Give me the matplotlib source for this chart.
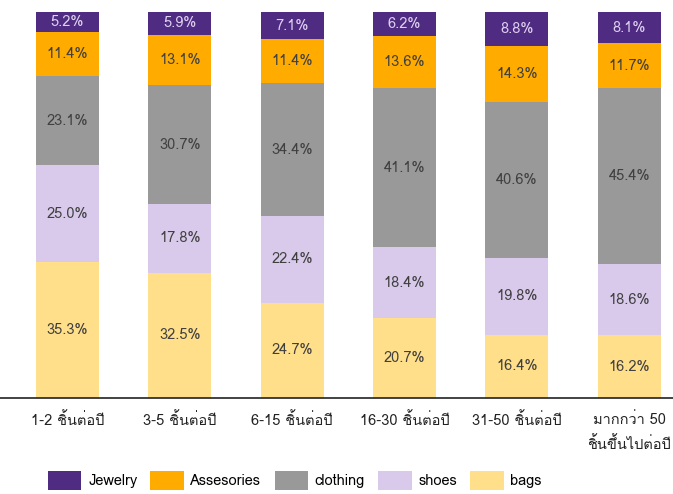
import matplotlib
matplotlib.use('Agg')
import matplotlib.pyplot as plt
from matplotlib import font_manager
from matplotlib.ft2font import FT2Font
from matplotlib.patches import Patch
import numpy as np

# Data (percent of each bar)
categories = ['1-2 ชิ้นต่อปี', '3-5 ชิ้นต่อปี', '6-15 ชิ้นต่อปี',
              '16-30 ชิ้นต่อปี', '31-50 ชิ้นต่อปี', 'มากกว่า 50\nชิ้นขึ้นไปต่อปี']
bags = [35.3, 32.5, 24.7, 20.7, 16.4, 16.2]
shoes = [25.0, 17.8, 22.4, 18.4, 19.8, 18.6]
clothing = [23.1, 30.7, 34.4, 41.1, 40.6, 45.4]
assesories = [11.4, 13.1, 11.4, 13.6, 14.3, 11.7]
jewelry = [5.2, 5.9, 7.1, 6.2, 8.8, 8.1]

series = [('bags', bags, '#ffdf8a', '#404040'),
          ('shoes', shoes, '#d9caec', '#404040'),
          ('clothing', clothing, '#999999', '#404040'),
          ('Assesories', assesories, '#ffab00', '#404040'),
          ('Jewelry', jewelry, '#4f2b82', '#ddd0f0')]


def find_thai_font():
    # look for any installed font that can draw Thai characters
    for f in font_manager.fontManager.ttflist:
        try:
            cmap = FT2Font(f.fname).get_charmap()
        except Exception:
            continue
        if 0x0E0A in cmap and 0x0E1B in cmap:
            return f.name
    return None


thai = find_thai_font()
fams = ([thai] if thai else []) + ['DejaVu Sans']
plt.rcParams['font.family'] = fams

fig = plt.figure(figsize=(6.73, 4.94), dpi=100)
ax = fig.add_axes([0.0, 0.1943, 1.0, 0.7814])

x = np.arange(len(categories))
bottom = np.zeros(len(categories))
for name, vals, color, tcolor in series:
    vals = np.array(vals)
    ax.bar(x, vals, 0.56, bottom=bottom, color=color, edgecolor='none')
    for xi, b, v in zip(x, bottom, vals):
        ax.text(xi, b + v / 2, f'{v:.1f}%', ha='center', va='center',
                fontsize=10.5, color=tcolor)
    bottom += vals

ax.set_xlim(-0.6, 5.39)
ax.set_ylim(0, 100)
ax.set_xticks(x)
ax.set_xticklabels(categories, fontsize=10.5, color='#222222', linespacing=1.75)
ax.tick_params(axis='x', length=0, pad=10)
ax.set_yticks([])
for s in ['top', 'right', 'left']:
    ax.spines[s].set_visible(False)
ax.spines['bottom'].set_color('#222222')
ax.spines['bottom'].set_linewidth(1.2)

handles = [Patch(facecolor=c, edgecolor='none', label=n) for n, _, c, _ in series[::-1]]
fig.legend(handles=handles, loc='center', bbox_to_anchor=(0.438, 0.027), ncol=5,
           frameon=False, fontsize=10.5, handlelength=2.3, handleheight=1.6,
           handletextpad=0.45, columnspacing=0.9)

fig.savefig('out.png', dpi=100)
